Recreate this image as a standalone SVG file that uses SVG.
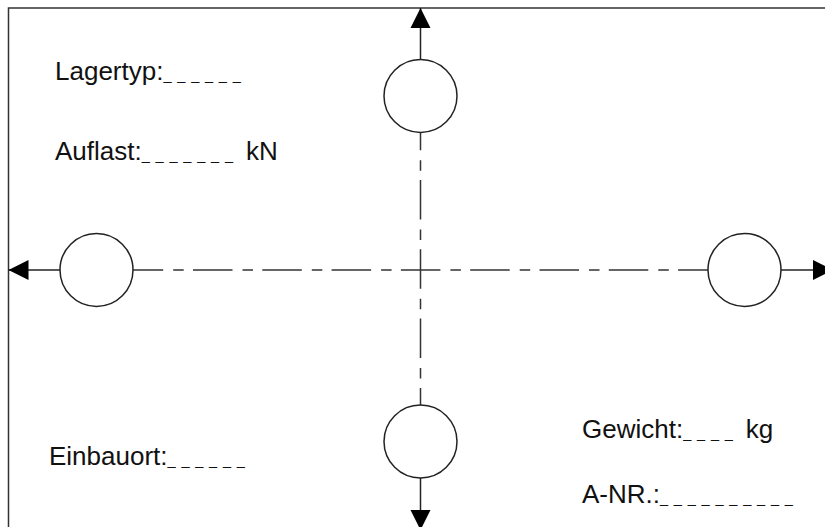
<svg xmlns="http://www.w3.org/2000/svg" width="825" height="527" viewBox="0 0 825 527">
<defs>
<style>
.frame{fill:none;stroke:#333;stroke-width:1.5}
.ln{stroke:#222;stroke-width:1.5;fill:none}
.dash{stroke:#333;stroke-width:1.5;fill:none;stroke-dasharray:39.5 10 10.5 9.3}
.node{fill:#fff;stroke:#222;stroke-width:1.5}
.lbl{font-family:"Liberation Sans",Arial,sans-serif;font-size:26px;fill:#111}
.us{font-size:14.5px;letter-spacing:5.8px}
</style>
<marker id="arr" markerUnits="userSpaceOnUse" markerWidth="22" markerHeight="22" viewBox="0 -11 21 22" refX="20" refY="0" orient="auto">
<path d="M0,-10 L20,0 L0,10 Z" fill="#000"/>
</marker>
</defs>
<rect class="frame" x="8.5" y="8" width="900" height="600"/>
<g id="connectors">
<line class="dash" x1="123.7" y1="270" x2="720" y2="270"/>
<line class="dash" x1="420.5" y1="110.7" x2="420.5" y2="420"/>
<line class="ln" x1="420.5" y1="96" x2="420.5" y2="8" marker-end="url(#arr)"/>
<line class="ln" x1="96.5" y1="270" x2="8.5" y2="270" marker-end="url(#arr)"/>
<line class="ln" x1="744.5" y1="270" x2="833" y2="270" marker-end="url(#arr)"/>
<line class="ln" x1="420.5" y1="441.5" x2="420.5" y2="530" marker-end="url(#arr)"/>
</g>
<g id="node-top"><circle class="node" cx="420.5" cy="96" r="36.5"/></g>
<g id="node-left"><circle class="node" cx="96.5" cy="270" r="36.5"/></g>
<g id="node-right"><circle class="node" cx="744.5" cy="270" r="36.5"/></g>
<g id="node-bottom"><circle class="node" cx="420.5" cy="441.5" r="36.5"/></g>
<g id="label-lagertyp"><text class="lbl" x="55" y="80">Lagertyp:<tspan class="us">______</tspan></text></g>
<g id="label-auflast"><text class="lbl" x="55" y="160">Auflast:<tspan class="us">_______</tspan> kN</text></g>
<g id="label-einbauort"><text class="lbl" x="49" y="465">Einbauort:<tspan class="us">______</tspan></text></g>
<g id="label-gewicht"><text class="lbl" x="582" y="437.5">Gewicht:<tspan class="us">____</tspan> kg</text></g>
<g id="label-anr"><text class="lbl" x="582" y="503">A-NR.:<tspan class="us">__________</tspan></text></g>
</svg>
